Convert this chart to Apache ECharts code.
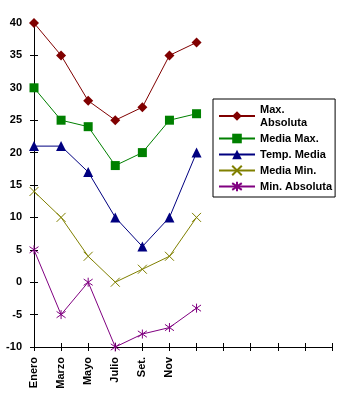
<!DOCTYPE html>
<html>
<head>
<meta charset="utf-8">
<script src="https://cdn.jsdelivr.net/npm/echarts@6/dist/echarts.min.js"></script>
<style>
  html, body { margin: 0; padding: 0; background: #fff; }
  #chart { width: 354px; height: 396px; }
</style>
</head>
<body>
<div id="chart"></div>
<script>
const months = ['Enero', 'Marzo', 'Mayo', 'Julio', 'Set.', 'Nov', '', '', '', '', '', '']
const maxAbsoluta = [40, 35, 28, 25, 27, 35, 37]
const mediaMax = [30, 25, 24, 18, 20, 25, 26]
const tempMedia = [21, 21, 17, 10, 5.5, 10, 20]
const mediaMin = [14, 10, 4, 0, 2, 4, 10]
const minAbsoluta = [5, -5, 0, -10, -8, -7, -4]

const font = 'Liberation Sans, Arial, sans-serif'
const crossSymbol = 'path://M0,0L10,10M10,0L0,10'
const starSymbol = 'path://M5,0L5,10M0,1.5L10,8.5M10,1.5L0,8.5'

function lineSeries(name, data, color, symbol, size, filled) {
  return {
    name: name,
    type: 'line',
    data: data,
    symbol: symbol,
    symbolSize: size,
    showAllSymbol: true,
    animation: false,
    lineStyle: { color: color, width: 1 },
    itemStyle: filled
      ? { color: color }
      : { color: 'rgba(0,0,0,0)', borderColor: color, borderWidth: 1 },
    emphasis: { disabled: true }
  }
}

let myChart = echarts.init(document.getElementById('chart'))
myChart.setOption({
  animation: false,
  backgroundColor: '#fff',
  grid: { // same box as the picture
    left: 34,
    right: 22,
    top: 23,
    bottom: 49
  },
  legend: {
    orient: 'vertical',
    left: 213,
    top: 99,
    padding: [4, 3, 4, 5],
    itemGap: 3,
    itemWidth: 36,
    itemHeight: 12,
    borderColor: '#000',
    borderWidth: 1,
    borderRadius: 0,
    backgroundColor: '#fff',
    formatter: function (name) {
      return name === 'Max. Absoluta' ? 'Max.\nAbsoluta' : name
    },
    textStyle: { color: '#000', fontFamily: font, fontWeight: 'bold', fontSize: 11, lineHeight: 13 }
  },
  xAxis: [
    {
      type: 'category',
      boundaryGap: false,
      data: months,
      axisLine: { show: true, onZero: false, lineStyle: { color: '#000', width: 1 } },
      axisTick: { show: true, length: 4, interval: 0, lineStyle: { color: '#000' } },
      axisLabel: { rotate: 90, margin: 10, interval: 0, color: '#000', fontFamily: font, fontWeight: 'bold', fontSize: 11 },
      splitLine: { show: false }
    },
    {
      type: 'category',
      position: 'bottom',
      boundaryGap: false,
      data: months,
      axisLine: { show: false, onZero: false },
      axisTick: { show: true, inside: true, length: 4, interval: 0, lineStyle: { color: '#000' } },
      axisLabel: { show: false },
      splitLine: { show: false }
    }
  ],
  yAxis: [
    {
      type: 'value',
      min: -10,
      max: 40,
      interval: 5,
      axisLine: { show: true, lineStyle: { color: '#000', width: 1 } },
      axisTick: { show: true, length: 4, lineStyle: { color: '#000' } },
      axisLabel: { margin: 12, color: '#000', fontFamily: font, fontWeight: 'bold', fontSize: 11 },
      splitLine: { show: false }
    },
    {
      type: 'value',
      position: 'left',
      min: -10,
      max: 40,
      interval: 5,
      axisLine: { show: false },
      axisTick: { show: true, inside: true, length: 4, lineStyle: { color: '#000' } },
      axisLabel: { show: false },
      splitLine: { show: false }
    }
  ],
  series: [
    lineSeries('Max. Absoluta', maxAbsoluta, '#800000', 'diamond', 10, true),
    lineSeries('Media Max.', mediaMax, '#008000', 'rect', 9, true),
    lineSeries('Temp. Media', tempMedia, '#000080', 'triangle', 10, true),
    lineSeries('Media Min.', mediaMin, '#808000', crossSymbol, 9, false),
    lineSeries('Min. Absoluta', minAbsoluta, '#800080', starSymbol, 9, false)
  ]
})
</script>
</body>
</html>
